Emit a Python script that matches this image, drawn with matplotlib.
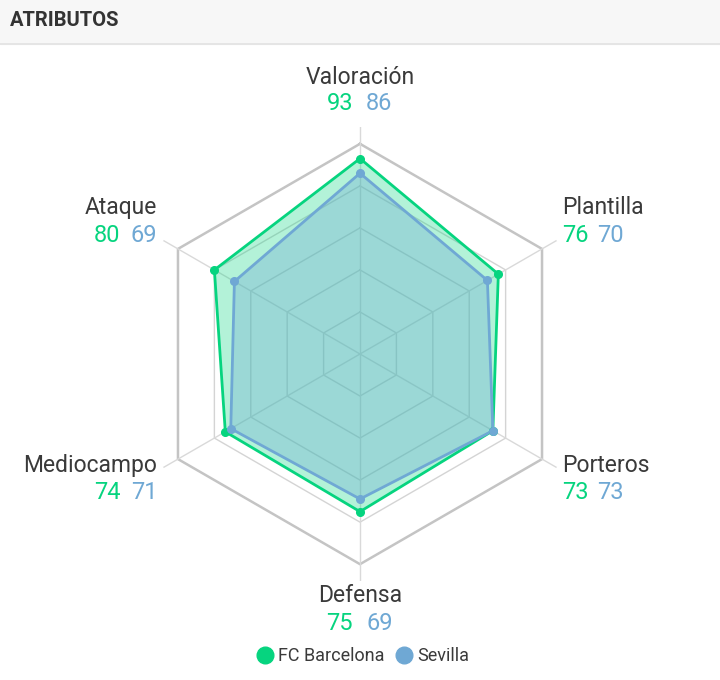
import matplotlib.pyplot as plt
import numpy as np
from matplotlib.lines import Line2D
from matplotlib.patches import Rectangle

categories = ['Valoración', 'Plantilla', 'Porteros', 'Defensa', 'Mediocampo', 'Ataque']
barcelona = [93, 76, 73, 75, 74, 80]
sevilla = [86, 70, 73, 69, 71, 69]
teams = ['FC Barcelona', 'Sevilla']
rings = [20, 40, 60, 80, 100]

GREEN = '#06d47f'
BLUE = '#6fa8d4'
TEXT = '#3a3a3a'

plt.rcParams['font.family'] = ['Roboto', 'DejaVu Sans']

W, H = 720, 680
fig = plt.figure(figsize=(W / 100, H / 100), dpi=100)

# header band with title
fig.patches.append(Rectangle((0, 1 - 44 / H), 1, 44 / H, transform=fig.transFigure,
                             color='#f7f7f7', zorder=0))
fig.add_artist(Line2D([0, 1], [1 - 44 / H] * 2, color='#e2e2e2', lw=1.2))
fig.text(10 / W, 1 - 21 / H, 'ATRIBUTOS', fontsize=14.5, fontweight='bold',
         color='#333333', va='center')

# polar axes, centre at (360, 354) px, r=100 -> 210 px
cx, cy, R = 360, 354, 227
ax = fig.add_axes([(cx - R) / W, (H - cy - R) / H, 2 * R / W, 2 * R / H], projection='polar')
ax.set_theta_offset(np.pi / 2)
ax.set_theta_direction(-1)
ax.set_ylim(0, 108)
ax.axis('off')

angles = np.linspace(0, 2 * np.pi, len(categories), endpoint=False)
closed = np.append(angles, angles[0])

# hexagonal grid
for r in rings:
    outer = r == rings[-1]
    ax.plot(closed, [r] * len(closed), color='#c4c4c4' if outer else '#d4d4d4',
            lw=1.8 if outer else 1, zorder=1)
for a in angles:
    ax.plot([a, a], [0, 108], color='#d9d9d9', lw=1, zorder=1)

# series
for vals, col, falpha in [(barcelona, GREEN, 0.3), (sevilla, BLUE, 0.35)]:
    v = np.append(vals, vals[0])
    ax.fill(closed, v, color=col, alpha=falpha, lw=0, zorder=2)
    ax.plot(closed, v, color=col, lw=2, zorder=3)
    ax.plot(angles, vals, 'o', color=col, ms=5.5, zorder=4)

# category labels and values (offsets in pixels from the spoke end)
layout = {
    'Valoración': ('center', (0, 50), (-7, 23), 'right', (6, 23), 'left'),
    'Plantilla': ('left', (6, 33), (6, 5), 'left', (41, 5), 'left'),
    'Porteros': ('left', (6, 2), (6, -25), 'left', (41, -25), 'left'),
    'Defensa': ('center', (0, -15), (-7, -42), 'right', (6, -42), 'left'),
    'Mediocampo': ('right', (-6, 2), (-43, -25), 'right', (-6, -25), 'right'),
    'Ataque': ('right', (-6, 33), (-43, 5), 'right', (-6, 5), 'right'),
}
for a, cat, b, s in zip(angles, categories, barcelona, sevilla):
    ha, loff, goff, gha, boff, bha = layout[cat]
    ax.annotate(cat, xy=(a, 108), xytext=loff, textcoords='offset pixels',
                ha=ha, va='center', fontsize=16.5, color=TEXT, annotation_clip=False)
    ax.annotate(str(b), xy=(a, 108), xytext=goff, textcoords='offset pixels',
                ha=gha, va='center', fontsize=17, color=GREEN, annotation_clip=False)
    ax.annotate(str(s), xy=(a, 108), xytext=boff, textcoords='offset pixels',
                ha=bha, va='center', fontsize=17, color=BLUE, annotation_clip=False)

handles = [Line2D([], [], marker='o', ls='', color=c, ms=12) for c in (GREEN, BLUE)]
fig.legend(handles, teams, loc='center', bbox_to_anchor=(0.5, 1 - 656 / H), ncol=2,
           frameon=False, fontsize=13, handletextpad=0.0, columnspacing=0.3,
           handlelength=1.5, labelcolor=TEXT)

fig.savefig('out.png', dpi=100)
